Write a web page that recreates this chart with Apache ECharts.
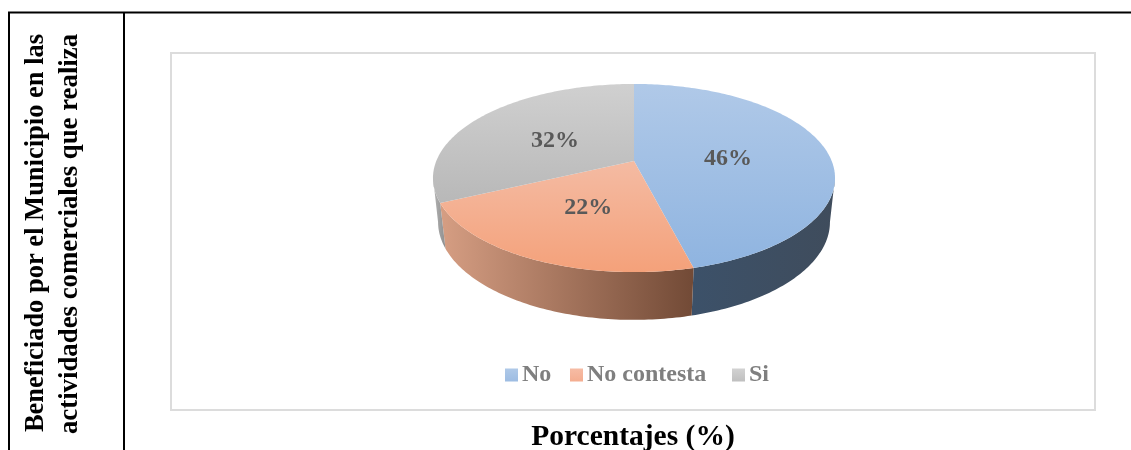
<!DOCTYPE html>
<html>
<head>
<meta charset="utf-8">
<style>html,body{margin:0;padding:0;background:#fff}#c{width:1131px;height:450px}</style>
<script src="https://cdn.jsdelivr.net/npm/echarts@6/dist/echarts.min.js"></script>
</head>
<body>
<div id="c"></div>
<script>
var categories = ['No', 'No contesta', 'Si'];
var values = [46, 22, 32];
var percentLabels = ['46%', '22%', '32%'];
var rowTitleLines = ['Beneficiado por el Municipio en las', 'actividades comerciales que realiza'];
var axisCaption = 'Porcentajes (%)';

var SERIF = '"Liberation Serif", serif';
var grad = echarts.graphic.LinearGradient;
function v(c0, c1) { return new grad(0, 0, 0, 1, [{offset: 0, color: c0}, {offset: 1, color: c1}]); }
function h(c0, c1) { return new grad(0, 0, 1, 0, [{offset: 0, color: c0}, {offset: 1, color: c1}]); }
var topFill = [v('#b0c9e8', '#8fb4e0'), v('#f4bba3', '#f4a17a'), v('#d0d0d0', '#b8b8b8')];
var sideFill = [h('#3c5169', '#3f4c5c'), h('#d69e83', '#724a36'), h('#b4b4b4', '#8e8e8e')];
var legendFill = [v('#afc9e8', '#9dbce2'), v('#f6bca5', '#f4ad90'), v('#d2d2d2', '#bfbfbf')];
var legendLeft = [500, 565, 727];

var total = values.reduce(function (a, b) { return a + b; }, 0);
var topDisc = {cx: 634, cy: 161, R: 197.7, A: 91, k: 0.181};
var baseDisc = {cx: 634, cy: 205, R: 193, A: 95, k: 0.173};
function project(d, deg, r) {
  var t = deg * Math.PI / 180, u = Math.sin(t) * r, w = Math.cos(t) * r, q = 1 + d.k * w;
  return [d.cx + d.R * u / q, d.cy - d.A * w / q];
}
function arc(d, a0, a1) {
  var n = Math.max(2, Math.ceil(Math.abs(a1 - a0))), pts = [];
  for (var i = 0; i <= n; i++) pts.push(project(d, a0 + (a1 - a0) * i / n, 1));
  return pts;
}
function renderSlice(params, api) {
  var idx = params.seriesIndex, before = 0;
  for (var i = 0; i < idx; i++) before += values[i];
  var val = api.value(0);
  var a0 = before / total * 360, a1 = (before + val) / total * 360, children = [];
  var s0 = Math.max(a0, 100), s1 = Math.min(a1, 260);
  if (s1 > s0) {
    children.push({
      type: 'polygon', z2: 1, silent: true,
      shape: {points: arc(topDisc, s0, s1).concat(arc(baseDisc, s1, s0))},
      style: {fill: sideFill[idx]}
    });
  }
  children.push({
    type: 'polygon', z2: 2, silent: true,
    shape: {points: [[topDisc.cx, topDisc.cy]].concat(arc(topDisc, a0, a1))},
    style: {fill: topFill[idx]}
  });
  var p = project(topDisc, (a0 + a1) / 2, 0.49);
  children.push({
    type: 'text', z2: 3, silent: true,
    style: {x: p[0] - 1, y: p[1] + 3, text: percentLabels[idx], align: 'center', verticalAlign: 'middle',
      fill: '#595959', font: 'bold 24px ' + SERIF}
  });
  return {type: 'group', children: children};
}

var chart = echarts.init(document.getElementById('c'), null, {renderer: 'canvas'});
chart.setOption({
  animation: false,
  backgroundColor: '#ffffff',
  legend: categories.map(function (name, i) {
    return {
      data: [name], left: legendLeft[i], top: 358, icon: 'rect', itemWidth: 13, itemHeight: 13, itemGap: 0,
      selectedMode: false,
      textStyle: {fontFamily: SERIF, fontWeight: 'bold', fontSize: 24, color: '#7f7f7f', padding: [0, 0, 0, -1]}
    };
  }),
  tooltip: {show: false},
  graphic: [
    {type: 'rect', z: 0, shape: {x: 171, y: 53, width: 924, height: 357}, style: {fill: '#fff', stroke: '#dcdcdc', lineWidth: 2}},
    {type: 'line', shape: {x1: 8, y1: 12.5, x2: 1131, y2: 12.5}, style: {stroke: '#000', lineWidth: 2}},
    {type: 'line', shape: {x1: 9, y1: 12, x2: 9, y2: 450}, style: {stroke: '#000', lineWidth: 2}},
    {type: 'line', shape: {x1: 124, y1: 12, x2: 124, y2: 450}, style: {stroke: '#000', lineWidth: 2}},
    {type: 'text', x: 36, y: 233, rotation: Math.PI / 2, style: {text: rowTitleLines[0], align: 'center', verticalAlign: 'middle', fill: '#000', font: 'bold 26.5px ' + SERIF}},
    {type: 'text', x: 70, y: 234, rotation: Math.PI / 2, style: {text: rowTitleLines[1], align: 'center', verticalAlign: 'middle', fill: '#000', font: 'bold 26.8px ' + SERIF}},
    {type: 'text', x: 633, y: 437, style: {text: axisCaption, align: 'center', verticalAlign: 'middle', fill: '#000', font: 'bold 29.5px ' + SERIF}}
  ],
  series: categories.map(function (name, i) {
    return {
      type: 'custom', name: name, coordinateSystem: 'none', z: 2,
      itemStyle: {color: legendFill[i]},
      renderItem: renderSlice,
      data: [[values[i]]]
    };
  })
});
</script>
</body>
</html>
